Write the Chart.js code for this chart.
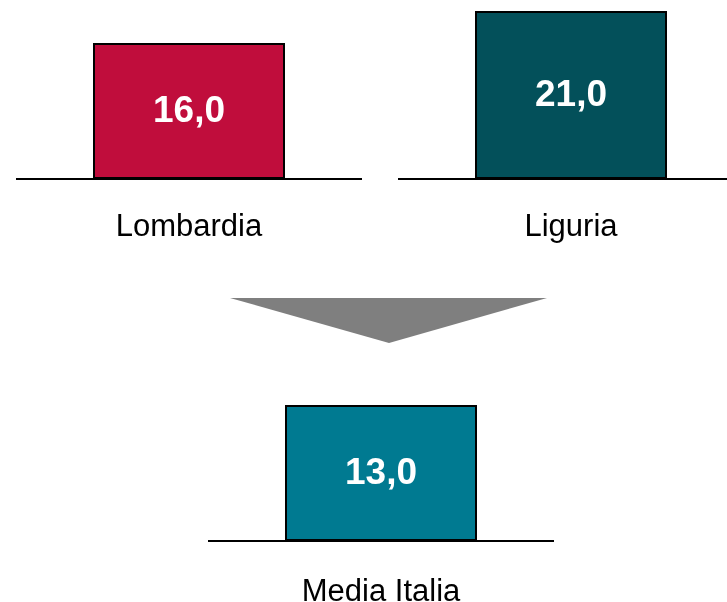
<!DOCTYPE html>
<html>
<head>
<meta charset="utf-8">
<script src="https://cdn.jsdelivr.net/npm/chart.js@4/dist/chart.umd.min.js"></script>
<style>
  html, body { margin: 0; padding: 0; background: #ffffff; width: 727px; height: 602px; overflow: hidden; }
  #wrap { position: relative; width: 727px; height: 602px; overflow: hidden; }
  canvas { position: absolute; }
  #c0 { left: 16px; top: 0px; }
  #c1 { left: 398px; top: 0px; }
  #c2 { left: 208px; top: 362px; }
  #arrow { position: absolute; left: 0; top: 0; }
</style>
</head>
<body>
<div id="wrap">
  <canvas id="c0" width="346" height="249"></canvas>
  <canvas id="c1" width="346" height="249"></canvas>
  <svg id="arrow" width="727" height="602"><polygon points="230,298 547,298 389,343" fill="#7f7f7f"/></svg>
  <canvas id="c2" width="346" height="249"></canvas>
</div>
<script>
// ---- data ----
const categories = ['Lombardia', 'Liguria', 'Media Italia'];
const values = [16.0, 21.0, 13.0];

// ---- styles ----
const barColors = ['#c00d3c', '#03505a', '#007a91'];
const axisMax = [21.06, 22.375, 17.11];
const labelPadding = [30, 30, 33];

const valueLabels = {
  id: 'valueLabels',
  afterDatasetsDraw(chart) {
    const ctx = chart.ctx;
    const meta = chart.getDatasetMeta(0);
    ctx.save();
    ctx.fillStyle = '#ffffff';
    ctx.font = 'bold 37px "Liberation Sans", Arial, sans-serif';
    ctx.textAlign = 'center';
    ctx.textBaseline = 'middle';
    meta.data.forEach((bar, i) => {
      const v = chart.data.datasets[0].data[i];
      const txt = v.toFixed(1).replace('.', ',');
      ctx.fillText(txt, bar.x, (bar.y + bar.base) / 2 + 1);
    });
    ctx.restore();
  }
};

categories.forEach((cat, i) => {
  new Chart(document.getElementById('c' + i), {
    type: 'bar',
    data: {
      labels: [cat],
      datasets: [{
        data: [values[i]],
        backgroundColor: barColors[i],
        borderColor: '#000000',
        borderWidth: 2,
        borderSkipped: false,
        barPercentage: 192 / 346,
        categoryPercentage: 1
      }]
    },
    options: {
      responsive: false,
      animation: false,
      events: [],
      layout: { padding: 0 },
      plugins: { legend: { display: false }, tooltip: { enabled: false } },
      scales: {
        y: { display: false, min: 0, max: axisMax[i] },
        x: {
          grid: { display: false, drawTicks: false },
          border: { display: true, color: '#000000', width: 2 },
          ticks: {
            color: '#000000',
            padding: labelPadding[i],
            font: { family: '"Liberation Sans", Arial, sans-serif', size: 31 }
          },
          afterFit(scale) { scale.height = 70; }
        }
      }
    },
    plugins: [valueLabels]
  });
});
</script>
</body>
</html>
